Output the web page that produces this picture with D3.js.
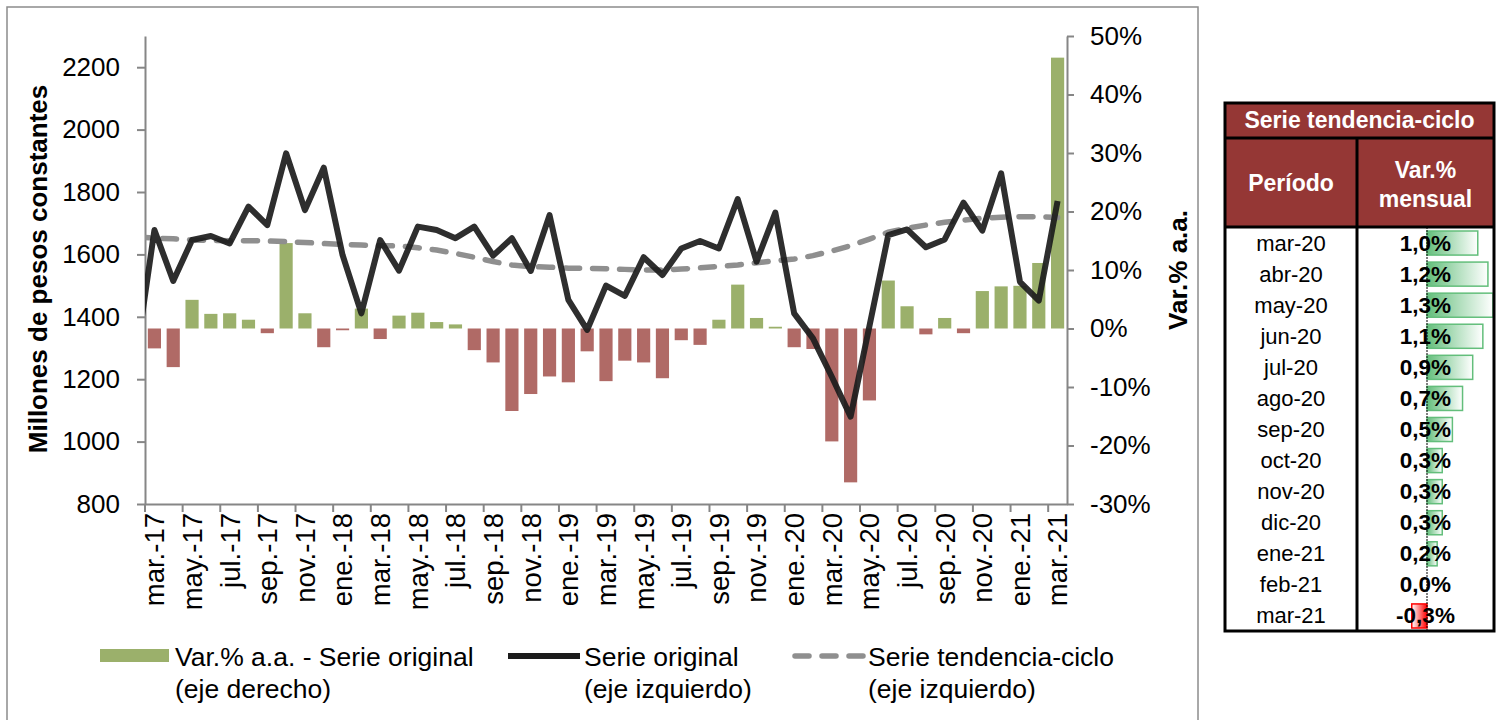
<!DOCTYPE html>
<html>
<head>
<meta charset="utf-8">
<script src="https://cdn.jsdelivr.net/npm/d3@7"></script>
<style>
  body { margin: 0; background: #fff; }
  svg { display: block; font-family: "Liberation Sans", Arial, sans-serif; }
</style>
</head>
<body>
<div id="chart"></div>
<script>
// Months mar-17 .. mar-21
const months = [
  'mar.-17','abr.-17','may.-17','jun.-17','jul.-17','ago.-17','sep.-17','oct.-17','nov.-17','dic.-17',
  'ene.-18','feb.-18','mar.-18','abr.-18','may.-18','jun.-18','jul.-18','ago.-18','sep.-18','oct.-18','nov.-18','dic.-18',
  'ene.-19','feb.-19','mar.-19','abr.-19','may.-19','jun.-19','jul.-19','ago.-19','sep.-19','oct.-19','nov.-19','dic.-19',
  'ene.-20','feb.-20','mar.-20','abr.-20','may.-20','jun.-20','jul.-20','ago.-20','sep.-20','oct.-20','nov.-20','dic.-20',
  'ene.-21','feb.-21','mar.-21'
];

// Var.% a.a. - serie original (right axis)
const varAA = [
  -3.4, -6.6, 4.9, 2.5, 2.6, 1.5, -0.8, 14.6, 2.6, -3.2,
  -0.3, 3.4, -1.8, 2.2, 2.7, 1.1, 0.7, -3.7, -5.8, -14.1, -11.2, -8.2,
  -9.2, -3.9, -9.0, -5.5, -5.8, -8.5, -2.0, -2.8, 1.5, 7.5, 1.8, 0.3,
  -3.2, -3.5, -19.3, -26.3, -12.3, 8.2, 3.8, -1.0, 1.8, -0.8, 6.4, 7.2,
  7.3, 11.2, 46.3
];

// Serie original (left axis)
const original = [
  1678, 1515, 1646, 1659, 1635, 1753, 1694, 1924, 1742, 1878,
  1598, 1411, 1646, 1548, 1689, 1678, 1652, 1689, 1596, 1652, 1547, 1726,
  1454, 1358, 1500, 1467, 1591, 1534, 1619, 1643, 1619, 1777, 1577, 1734,
  1411, 1331, 1208, 1080, 1370, 1662, 1680, 1623, 1648, 1766, 1676, 1860,
  1512, 1452, 1771
];

// Serie tendencia-ciclo (left axis)
const tendencia = [
  1652, 1650, 1646, 1645, 1644, 1644, 1643, 1641, 1638, 1635,
  1632, 1630, 1628, 1627, 1621, 1614, 1603, 1591, 1577, 1566, 1561, 1559,
  1556, 1555, 1554, 1552, 1550, 1550, 1553, 1557, 1561, 1566, 1573, 1580,
  1585, 1596, 1611, 1628, 1649, 1671, 1684, 1694, 1703, 1710, 1716, 1719,
  1721, 1721, 1718
];

// feb-17 values, only the piece up to the left edge is visible
const leadOriginal = 1260;
const leadTendencia = 1656;

const leftTicks = [800, 1000, 1200, 1400, 1600, 1800, 2000, 2200];
const rightTicks = [-30, -20, -10, 0, 10, 20, 30, 40, 50];

// Table: Serie tendencia-ciclo, var.% mensual
const tablePeriods = ['mar-20','abr-20','may-20','jun-20','jul-20','ago-20','sep-20','oct-20','nov-20','dic-20','ene-21','feb-21','mar-21'];
const tableVar = [1.0, 1.2, 1.3, 1.1, 0.9, 0.7, 0.5, 0.3, 0.3, 0.3, 0.2, 0.0, -0.3];

const W = 1501, H = 720;
const green = '#9bb06b', red = '#b06a66', axisGray = '#868686';

const svg = d3.select('#chart').append('svg')
  .attr('width', W)
  .attr('height', H);

// chart frame
svg.append('rect')
  .attr('x', 7).attr('y', 7).attr('width', 1191).attr('height', 740)
  .attr('fill', 'none').attr('stroke', '#8c8c8c').attr('stroke-width', 1.5);

const plot = { left: 145, right: 1067, top: 36, bottom: 504 };

const x = d3.scaleBand()
  .domain(months)
  .range([plot.left, plot.right])
  .paddingInner(0.3)
  .paddingOuter(0.15);
const cx = d => x(d) + x.bandwidth() / 2;

const yL = d3.scaleLinear().domain([800, 2300]).range([plot.bottom, plot.top]);
const yR = d3.scaleLinear().domain([-30, 50]).range([plot.bottom, plot.top]);

svg.append('clipPath').attr('id', 'plotclip')
  .append('rect')
  .attr('x', plot.left).attr('y', 0)
  .attr('width', plot.right - plot.left).attr('height', H);

// Bars
const data = months.map((m, i) => ({ m, v: varAA[i], o: original[i], t: tendencia[i] }));
svg.append('g').selectAll('rect')
  .data(data)
  .enter().append('rect')
    .attr('x', d => x(d.m))
    .attr('width', x.bandwidth())
    .attr('y', d => yR(Math.max(0, d.v)))
    .attr('height', d => Math.abs(yR(d.v) - yR(0)))
    .attr('fill', d => d.v >= 0 ? green : red);

// Axes
const axisL = svg.append('g')
  .attr('transform', `translate(${plot.left},0)`)
  .call(d3.axisLeft(yL).tickValues(leftTicks).tickSize(8).tickSizeOuter(0).tickPadding(17)
    .tickFormat(d3.format('d')));

const axisR = svg.append('g')
  .attr('transform', `translate(${plot.right},0)`)
  .call(d3.axisRight(yR).tickValues(rightTicks).tickSize(7).tickSizeOuter(0).tickPadding(16)
    .tickFormat(d => d + '%'));

const axisB = svg.append('g')
  .attr('transform', `translate(0,${plot.bottom})`)
  .call(d3.axisBottom(x).tickValues(months.filter((d, i) => i % 2 === 0)).tickSize(0).tickSizeOuter(0));

// boundary tick marks every two months
const step = x.step();
const boundaries = months.filter((d, i) => i % 2 === 0).map(d => x(d) - (step - x.bandwidth()) / 2);
axisB.selectAll('.bt')
  .data(boundaries)
  .enter().append('line')
    .attr('class', 'bt')
    .attr('x1', d => d).attr('x2', d => d)
    .attr('y1', 0).attr('y2', 8);

[axisL, axisR, axisB].forEach(a => {
  a.select('.domain').attr('stroke', axisGray).attr('stroke-width', 2);
  a.selectAll('line').attr('stroke', axisGray).attr('stroke-width', 2);
  a.selectAll('text').attr('fill', '#000').style('font-size', '26px')
    .style('font-family', '"Liberation Sans", Arial, sans-serif');
});

axisB.selectAll('text')
  .attr('transform', 'rotate(-90)')
  .attr('x', -9)
  .attr('y', 0)
  .attr('dy', '0.36em')
  .style('text-anchor', 'end')
  .style('font-size', '27.5px');

// Lines
const leadX = cx(months[0]) - step;
const lineGen = d3.line().x(d => d[0]).y(d => yL(d[1]));

const trendPts = [[leadX, leadTendencia]].concat(data.map(d => [cx(d.m), d.t]));
const origPts = [[leadX, leadOriginal]].concat(data.map(d => [cx(d.m), d.o]));

const lines = svg.append('g').attr('clip-path', 'url(#plotclip)');
lines.append('path')
  .attr('d', lineGen(trendPts))
  .attr('fill', 'none')
  .attr('stroke', '#8f8f8f')
  .attr('stroke-width', 5.5)
  .attr('stroke-linecap', 'round')
  .attr('stroke-dasharray', '14,13');

lines.append('path')
  .attr('d', lineGen(origPts))
  .attr('fill', 'none')
  .attr('stroke', '#1c1c1c')
  .attr('stroke-opacity', 0.92)
  .attr('stroke-width', 6)
  .attr('stroke-linejoin', 'round');

// Axis titles
svg.append('text')
  .attr('transform', 'translate(47,269) rotate(-90)')
  .attr('text-anchor', 'middle')
  .style('font-size', '26px').style('font-weight', 'bold')
  .text('Millones de pesos constantes');

svg.append('text')
  .attr('transform', 'translate(1187,270) rotate(-90)')
  .attr('text-anchor', 'middle')
  .style('font-size', '26px').style('font-weight', 'bold')
  .text('Var.% a.a.');

// Legend
const legend = svg.append('g').style('font-size', '26.5px');
legend.append('rect').attr('x', 100).attr('y', 649).attr('width', 69).attr('height', 13).attr('fill', green);
legend.append('line').attr('x1', 508).attr('x2', 580).attr('y1', 656).attr('y2', 656)
  .attr('stroke', '#1c1c1c').attr('stroke-width', 6);
legend.append('line').attr('x1', 795).attr('x2', 863).attr('y1', 656).attr('y2', 656)
  .attr('stroke', '#8f8f8f').attr('stroke-width', 5.5).attr('stroke-linecap', 'round')
  .attr('stroke-dasharray', '14,13');

const legendText = [
  { x: 175, lines: ['Var.% a.a. - Serie original', '(eje derecho)'] },
  { x: 584, lines: ['Serie original', '(eje izquierdo)'] },
  { x: 868, lines: ['Serie tendencia-ciclo', '(eje izquierdo)'] }
];
legendText.forEach(l => {
  l.lines.forEach((t, j) => {
    legend.append('text').attr('x', l.x).attr('y', 666 + j * 32).text(t);
  });
});

// Table
const tb = { left: 1225, right: 1494, top: 103, titleB: 138, headB: 227, bottom: 631, col: 1357 };
const rowH = (tb.bottom - tb.headB) / tablePeriods.length;
const table = svg.append('g');

table.append('rect')
  .attr('x', tb.left).attr('y', tb.top)
  .attr('width', tb.right - tb.left).attr('height', tb.headB - tb.top)
  .attr('fill', '#953735');

const defs = svg.append('defs');
const gGrad = defs.append('linearGradient').attr('id', 'gbar');
gGrad.append('stop').attr('offset', '0%').attr('stop-color', '#63be7b');
gGrad.append('stop').attr('offset', '100%').attr('stop-color', '#ffffff');
const rGrad = defs.append('linearGradient').attr('id', 'rbar');
rGrad.append('stop').attr('offset', '0%').attr('stop-color', '#ffffff');
rGrad.append('stop').attr('offset', '100%').attr('stop-color', '#ff0000');

const xb = d3.scaleLinear().domain([0, 1.3]).range([1427, 1493]);
const rowY = d3.scaleBand().domain(tablePeriods).range([tb.headB, tb.bottom]);

const rows = table.selectAll('.row')
  .data(tablePeriods.map((p, i) => ({ p, v: tableVar[i] })))
  .enter().append('g')
    .attr('class', 'row')
    .attr('transform', d => `translate(0,${rowY(d.p)})`);

rows.filter(d => d.v !== 0).append('rect')
  .attr('x', d => Math.min(xb(0), xb(d.v)))
  .attr('y', 4)
  .attr('width', d => Math.abs(xb(d.v) - xb(0)))
  .attr('height', rowH - 7)
  .attr('fill', d => d.v > 0 ? 'url(#gbar)' : 'url(#rbar)')
  .attr('stroke', d => d.v > 0 ? '#63be7b' : '#ff0000')
  .attr('stroke-width', 1.5);

table.append('line')
  .attr('x1', xb(0)).attr('x2', xb(0))
  .attr('y1', tb.headB).attr('y2', tb.bottom)
  .attr('stroke', '#000').attr('stroke-width', 1).attr('stroke-dasharray', '2,1');

rows.append('text')
  .attr('x', (tb.left + tb.col) / 2)
  .attr('y', rowH / 2 + 8)
  .attr('text-anchor', 'middle')
  .style('font-size', '22px')
  .text(d => d.p);

rows.append('text')
  .attr('x', (tb.col + tb.right) / 2)
  .attr('y', rowH / 2 + 8)
  .attr('text-anchor', 'middle')
  .style('font-size', '22.5px').style('font-weight', 'bold')
  .text(d => d.v.toFixed(1).replace('.', ',') + '%');

// header texts
const hdr = table.append('g').attr('fill', '#fff').style('font-weight', 'bold').style('font-size', '23px')
  .attr('text-anchor', 'middle');
hdr.append('text').attr('x', (tb.left + tb.right) / 2).attr('y', 128).text('Serie tendencia-ciclo');
hdr.append('text').attr('x', (tb.left + tb.col) / 2).attr('y', 191).text('Período');
hdr.append('text').attr('x', (tb.col + tb.right) / 2).attr('y', 178).text('Var.%');
hdr.append('text').attr('x', (tb.col + tb.right) / 2).attr('y', 207).text('mensual');

// table borders
const bw = 3;
table.append('rect')
  .attr('x', tb.left).attr('y', tb.top)
  .attr('width', tb.right - tb.left).attr('height', tb.bottom - tb.top)
  .attr('fill', 'none').attr('stroke', '#000').attr('stroke-width', bw);
[tb.titleB, tb.headB].forEach(yy => {
  table.append('line').attr('x1', tb.left).attr('x2', tb.right).attr('y1', yy).attr('y2', yy)
    .attr('stroke', '#000').attr('stroke-width', bw);
});
table.append('line').attr('x1', tb.col).attr('x2', tb.col).attr('y1', tb.titleB).attr('y2', tb.bottom)
  .attr('stroke', '#000').attr('stroke-width', bw);
</script>
</body>
</html>
